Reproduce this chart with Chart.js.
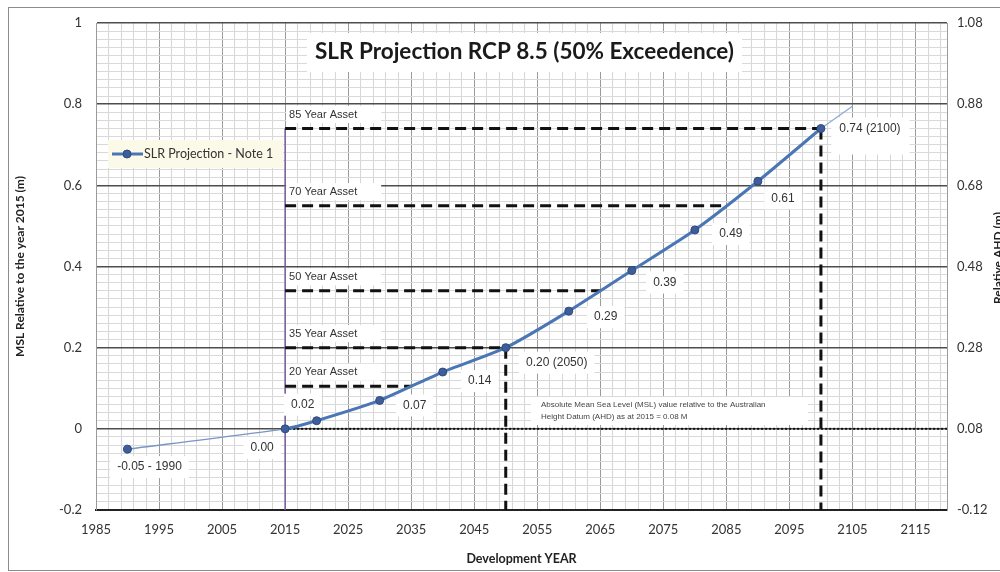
<!DOCTYPE html>
<html>
<head>
<meta charset="utf-8">
<script src="https://cdn.jsdelivr.net/npm/chart.js@4.4.1/dist/chart.umd.min.js"></script>
<style>
  html, body { margin: 0; padding: 0; background: #fff; }
  #wrap { width: 1000px; height: 572px; position: relative; }
</style>
</head>
<body>
<div id="wrap"><canvas id="slr"></canvas></div>
<script>
// SLR values (m, relative to 2015 MSL)
const years = [1990, 2015, 2020, 2030, 2040, 2050, 2060, 2070, 2080, 2090, 2100];
const slrValues = [-0.05, 0.00, 0.02, 0.07, 0.14, 0.20, 0.29, 0.39, 0.49, 0.61, 0.74];
const pointLabels = ['-0.05 - 1990', '0.00', '0.02', '0.07', '0.14', '0.20 (2050)', '0.29', '0.39', '0.49', '0.61', '0.74 (2100)'];

// faint trend stub past 2100
const trendYears = [2100, 2105];
const trendValues = [0.74, 0.795];

// design life lines
const assetNames = ['85 Year Asset', '70 Year Asset', '50 Year Asset', '35 Year Asset', '20 Year Asset'];
const assetLevels = [0.74, 0.55, 0.34, 0.20, 0.105];
const assetEndYears = [2100, 2085, 2065, 2050, 2035];
const dropLineYears = [2100, 2050];

const baseYear = 2015;
const ahdOffset = 0.08;

const xTickYears = [1985, 1995, 2005, 2015, 2025, 2035, 2045, 2055, 2065, 2075, 2085, 2095, 2105, 2115];
const leftTicks = [-0.2, 0, 0.2, 0.4, 0.6, 0.8, 1];
const rightTicks = [-0.12, 0.08, 0.28, 0.48, 0.68, 0.88, 1.08];

const titleText = 'SLR Projection RCP 8.5 (50% Exceedence)';
const noteLines = ['Absolute Mean Sea Level (MSL) value relative to the Australian', 'Height Datum (AHD) as at 2015 = 0.08 M'];

const calibri = 'Lato, "Open Sans", sans-serif';
const arial = '"Liberation Sans", Arial, sans-serif';

// pixel nudges for the point labels (same order as pointLabels)
const labelOffsets = [[22, 18], [-23, 19], [-14, -16], [35, 5], [37, 9], [51, 15], [37, 6], [33, 12], [36, 4], [25, 17], [49, 0]];

const isMajorY = v => leftTicks.some(t => Math.abs(t - v) < 1e-6);

function seg(ctx, x1, y1, x2, y2) {
  ctx.beginPath();
  ctx.moveTo(x1, y1);
  ctx.lineTo(x2, y2);
  ctx.stroke();
}

function boxText(ctx, text, x, y, o) {
  ctx.font = o.font;
  const w = ctx.measureText(text).width;
  const padL = o.padL ?? 7, padR = o.padR ?? 7, padY = o.padY ?? 5;
  const padB = o.padB ?? padY;
  const h = o.h ?? 12;
  let left = o.align === 'left' ? x : x - w / 2;
  ctx.fillStyle = o.bg || '#fff';
  ctx.fillRect(left - padL, y - h / 2 - padY, w + padL + padR, h + padY + padB);
  ctx.fillStyle = o.color || '#333';
  ctx.textAlign = 'left';
  ctx.textBaseline = 'middle';
  ctx.fillText(text, left, y);
}

const overlay = {
  id: 'overlay',
  beforeDatasetsDraw(chart) {
    const { ctx, chartArea: a, scales: { x, y } } = chart;
    ctx.save();
    ctx.beginPath();
    ctx.rect(a.left, a.top, a.right - a.left, a.bottom - a.top);
    ctx.clip();

    const xb = x.getPixelForValue(baseYear);
    const y0 = y.getPixelForValue(0);

    // title box
    ctx.font = 'bold 22.5px ' + calibri;
    const tw = ctx.measureText(titleText).width;
    const tcx = (a.left + a.right) / 2 + 3;
    ctx.fillStyle = '#fff';
    ctx.fillRect(tcx - tw / 2 - 8, 33, tw + 16, 39);
    ctx.fillStyle = '#1a1a1a';
    ctx.textAlign = 'center';
    ctx.textBaseline = 'middle';
    ctx.fillText(titleText, tcx, 52);

    assetNames.forEach((name, i) => {
      const ly = y.getPixelForValue(assetLevels[i]) - 14;
      boxText(ctx, name, xb + 4, ly, { font: '11px ' + arial, color: '#333', align: 'left', padL: 3, padR: 24, padY: 3, h: 11 });
    });

    // note box
    ctx.fillStyle = '#fff';
    ctx.fillRect(531, 397, 277, 28);
    ctx.font = '8px ' + arial;
    ctx.fillStyle = '#444';
    ctx.textAlign = 'left';
    ctx.textBaseline = 'middle';
    ctx.fillText(noteLines[0], 541, 405);
    ctx.fillText(noteLines[1], 541, 417);

    // purple 2015 marker line
    ctx.strokeStyle = '#7a5c9e';
    ctx.lineWidth = 1.5;
    seg(ctx, xb, y.getPixelForValue(assetLevels[0]), xb, a.bottom);

    // AHD datum (dotted)
    ctx.strokeStyle = '#111';
    ctx.lineWidth = 2;
    ctx.setLineDash([2, 2]);
    seg(ctx, xb, y0, a.right, y0);

    // asset lines
    ctx.setLineDash([11, 6]);
    ctx.lineWidth = 3;
    assetLevels.forEach((lv, i) => {
      const py = y.getPixelForValue(lv);
      seg(ctx, xb, py, x.getPixelForValue(assetEndYears[i]), py);
    });
    dropLineYears.forEach(yr => {
      const i = assetEndYears.indexOf(yr);
      const px = x.getPixelForValue(yr);
      seg(ctx, px, y.getPixelForValue(assetLevels[i]), px, a.bottom);
    });
    ctx.setLineDash([]);

    // point labels
    const meta = chart.getDatasetMeta(0);
    const last = pointLabels.length - 1;
    meta.data.forEach((pt, i) => {
      const [dx, dy] = labelOffsets[i];
      const o = { font: '12px ' + arial, color: '#333' };
      if (i === last) { o.padR = 9; o.padB = 20; o.padL = 8; }
      boxText(ctx, pointLabels[i], pt.x + dx, pt.y + dy, o);
    });

    // legend box
    const ds = chart.data.datasets[0];
    ctx.fillStyle = '#fbf9e8';
    ctx.fillRect(108, 140, 175, 28);
    ctx.strokeStyle = ds.borderColor;
    ctx.lineWidth = 3;
    seg(ctx, 112, 154, 143, 154);
    ctx.beginPath();
    ctx.arc(127, 154, 4, 0, Math.PI * 2);
    ctx.fillStyle = ds.pointBackgroundColor;
    ctx.fill();
    ctx.lineWidth = 1;
    ctx.strokeStyle = ds.pointBorderColor;
    ctx.stroke();
    ctx.font = '12.5px ' + calibri;
    ctx.fillStyle = '#333';
    ctx.textAlign = 'left';
    ctx.textBaseline = 'middle';
    ctx.fillText(ds.label, 144, 154);

    ctx.restore();
  },
  afterDraw(chart) {
    const { ctx } = chart;
    ctx.save();
    ctx.translate(998, 258);
    ctx.rotate(-Math.PI / 2);
    ctx.font = 'bold 12px ' + calibri;
    ctx.fillStyle = '#222';
    ctx.textAlign = 'center';
    ctx.textBaseline = 'middle';
    ctx.fillText('Relative AHD (m)', 0, 0);
    ctx.restore();

    ctx.save();
    ctx.strokeStyle = '#8c8c8c';
    ctx.lineWidth = 1;
    ctx.strokeRect(8.5, 7.5, 1010, 563);
    ctx.restore();
  }
};

new Chart(document.getElementById('slr'), {
  type: 'line',
  data: {
    datasets: [
      {
        label: 'SLR Projection - Note 1',
        data: years.map((yr, i) => ({ x: yr, y: slrValues[i] })),
        borderColor: '#4a76b6',
        borderWidth: 3,
        pointRadius: 4,
        pointBackgroundColor: '#3f5d99',
        pointBorderColor: '#2c4a82',
        pointBorderWidth: 1,
        tension: 0.2,
        segment: {
          borderWidth: c => c.p0DataIndex === 0 ? 1.3 : 3,
          borderColor: c => c.p0DataIndex === 0 ? '#7895c4' : '#4a76b6'
        }
      },
      {
        label: 'trend',
        data: trendYears.map((yr, i) => ({ x: yr, y: trendValues[i] })),
        borderColor: '#8fa9d2',
        borderWidth: 1.3,
        pointRadius: 0
      }
    ]
  },
  options: {
    responsive: true,
    maintainAspectRatio: false,
    animation: false,
    layout: { padding: { top: 23, left: 0, right: 0, bottom: 0 } },
    plugins: { legend: { display: false }, tooltip: { enabled: false } },
    scales: {
      x: {
        type: 'linear',
        min: 1985,
        max: 2120,
        afterBuildTicks: s => {
          const t = [];
          for (let v = 1985; v < 2120; v += 2) t.push({ value: v });
          s.ticks = t;
        },
        afterFit: s => { s.height = 62; },
        ticks: {
          autoSkip: false,
          maxRotation: 0,
          padding: 12,
          color: '#333',
          font: { family: calibri, size: 13 },
          callback: v => xTickYears.includes(v) ? String(v) : ''
        },
        grid: {
          drawTicks: false,
          color: c => xTickYears.includes(c.tick.value) ? '#9a9a9a' : '#d6d6d6',
          lineWidth: 1
        },
        border: { color: '#222', width: 2 },
        title: {
          display: true,
          text: 'Development YEAR',
          color: '#222',
          font: { family: calibri, size: 12.5, weight: 'bold' },
          padding: { top: 0, bottom: 6 }
        }
      },
      y: {
        min: -0.2,
        max: 1,
        afterFit: s => { s.width = 96; },
        ticks: {
          stepSize: 0.02,
          autoSkip: false,
          padding: 14,
          color: '#333',
          font: { family: calibri, size: 13 },
          callback: v => isMajorY(v) ? String(Math.round(v * 100) / 100) : ''
        },
        grid: {
          drawTicks: false,
          color: c => isMajorY(c.tick.value) ? '#4d4d4d' : '#d9d9d9',
          lineWidth: c => isMajorY(c.tick.value) ? 1.4 : 1
        },
        border: { color: '#9a9a9a' },
        title: {
          display: true,
          text: 'MSL Relative to the year 2015 (m)',
          color: '#222',
          font: { family: calibri, size: 12, weight: 'bold' },
          padding: { top: 13, bottom: 0 }
        }
      },
      y2: {
        position: 'right',
        min: -0.2 + ahdOffset,
        max: 1 + ahdOffset,
        afterBuildTicks: s => { s.ticks = rightTicks.map(v => ({ value: v })); },
        afterFit: s => { s.width = 53; },
        ticks: {
          padding: 10,
          color: '#333',
          font: { family: calibri, size: 13 },
          callback: v => v.toFixed(2)
        },
        grid: { display: false, drawTicks: false },
        border: { display: true, color: '#9a9a9a' }
      }
    }
  },
  plugins: [overlay]
});
</script>
</body>
</html>
